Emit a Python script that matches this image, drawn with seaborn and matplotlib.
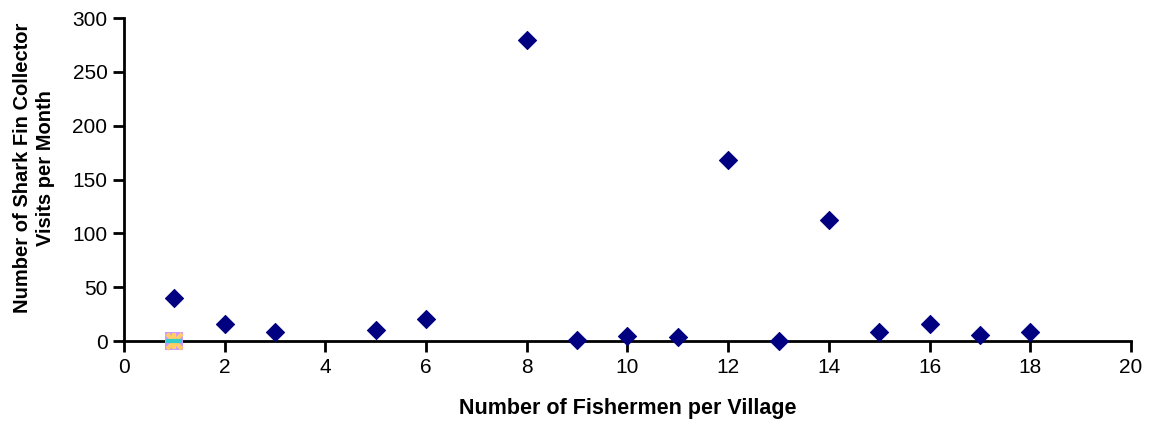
import numpy as np
import pandas as pd
import matplotlib
matplotlib.use("Agg")
import matplotlib.pyplot as plt
import seaborn as sns

# main series
fishermen = [1, 2, 3, 5, 6, 8, 9, 10, 11, 12, 13, 14, 15, 16, 17, 18]
visits = [40, 16, 8, 10, 20, 280, 1, 5, 4, 168, 0, 112, 8, 16, 6, 8]

# overlapping extra series at (1, 0)
extra_x = [1, 1, 1, 1]
extra_y = [0, 0, 0, 0]
extra_markers = ["s", "x", "|", "_"]
extra_colors = ["#CC99FF", "#FFCC66", "#FFCC66", "#33CCCC"]

x_ticks = np.arange(0, 21, 2)
y_ticks = np.arange(0, 301, 50)

sns.set_theme(style="ticks")
plt.rcParams.update({
    "font.family": ["Liberation Sans", "DejaVu Sans"],
    "text.color": "black",
    "axes.labelcolor": "black",
})

df = pd.DataFrame({"fishermen": fishermen, "visits": visits})

fig = plt.figure(figsize=(11.54, 4.25), dpi=100)
ax = fig.add_axes([0.1075, 0.1976, 0.8725, 0.76])

for xx, yy, m, c in zip(extra_x, extra_y, extra_markers, extra_colors):
    ax.scatter(xx, yy, marker=m, s=150 if m == "s" else 120, color=c,
               linewidths=0 if m == "s" else 3, zorder=3, clip_on=False)

sns.scatterplot(data=df, x="fishermen", y="visits", marker="D", s=85,
                color="#000080", edgecolor="#000080", ax=ax, zorder=4, clip_on=False)

ax.set_xlim(0, 20)
ax.set_ylim(0, 300)
ax.set_xticks(x_ticks)
ax.set_yticks(y_ticks)
ax.tick_params(axis="both", which="major", labelsize=15, pad=4, length=8, width=2,
               color="black", labelcolor="black", direction="out",
               bottom=True, left=True)
sns.despine(ax=ax)
for s in ["left", "bottom"]:
    ax.spines[s].set_color("black")
    ax.spines[s].set_linewidth(2)

ax.set_xlabel("Number of Fishermen per Village", fontsize=15.5, fontweight="bold", labelpad=15)
ax.set_ylabel("Number of Shark Fin Collector\nVisits per Month", fontsize=14.5,
              fontweight="bold", linespacing=1.25)
ax.yaxis.set_label_coords(-0.069, 0.535)

fig.savefig("out.png", dpi=100)
